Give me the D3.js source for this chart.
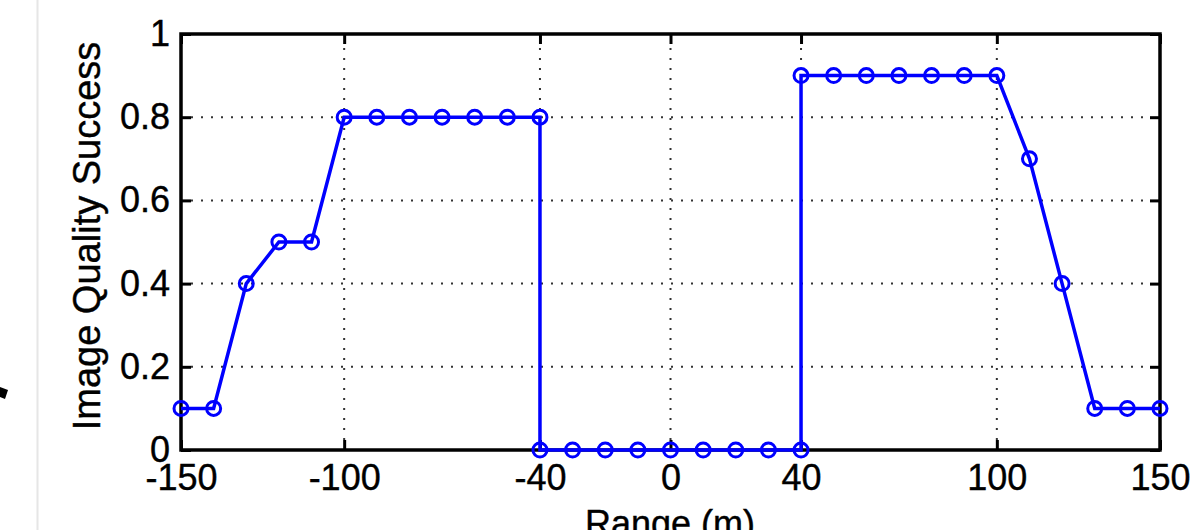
<!DOCTYPE html>
<html>
<head>
<meta charset="utf-8">
<script src="https://cdn.jsdelivr.net/npm/d3@7"></script>
<style>
  body { margin: 0; background: #fff; }
  text { font-family: "Liberation Sans", Arial, sans-serif; fill: #000; }
</style>
</head>
<body>
<script>
// データ
const rangeM = [-150, -140, -130, -120, -110, -100, -90, -80, -70, -60, -50, -40,
  -40, -30, -20, -10, 0, 10, 20, 30, 40,
  40, 50, 60, 70, 80, 90, 100, 110, 120, 130, 140, 150];
const success = [0.1, 0.1, 0.4, 0.5, 0.5, 0.8, 0.8, 0.8, 0.8, 0.8, 0.8, 0.8,
  0, 0, 0, 0, 0, 0, 0, 0, 0,
  0.9, 0.9, 0.9, 0.9, 0.9, 0.9, 0.9, 0.7, 0.4, 0.1, 0.1, 0.1];
const xTicks = [-150, -100, -40, 0, 40, 100, 150];
const yTicks = [0, 0.2, 0.4, 0.6, 0.8, 1];

const points = rangeM.map((r, i) => ({ x: r, y: success[i] }));

// SVGの設定
const width = 1204, height = 530;
const m = { left: 181, right: 1160, top: 34, bottom: 450 };

const svg = d3.select("body").append("svg")
  .attr("width", width).attr("height", height);

// 背景の切り抜き跡
svg.append("line")
  .attr("x1", 37.5).attr("x2", 37.5).attr("y1", 0).attr("y2", height)
  .attr("stroke", "#e6e6e6").attr("stroke-width", 2);
svg.append("path")
  .attr("d", "M0,387 L8,390 L5,399 L0,397 Z")
  .attr("fill", "#000");

const x = d3.scaleLinear().domain([-150, 150]).range([m.left, m.right]);
const y = d3.scaleLinear().domain([0, 1]).range([m.bottom, m.top]);

// グリッド（点線）
const grid = svg.append("g")
  .attr("stroke", "#333").attr("stroke-width", 2).attr("stroke-dasharray", "2 8");
grid.selectAll(".gx").data(xTicks.slice(1, -1)).enter().append("line")
  .attr("x1", d => x(d)).attr("x2", d => x(d))
  .attr("y1", m.bottom - 10).attr("y2", m.top + 10);
grid.selectAll(".gy").data(yTicks.slice(1, -1)).enter().append("line")
  .attr("y1", d => y(d)).attr("y2", d => y(d))
  .attr("x1", m.left + 10).attr("x2", m.right - 10);

// 軸
function styleAxis(g) {
  g.select(".domain").remove();
  g.selectAll(".tick line").attr("stroke", "#000").attr("stroke-width", 3);
  g.selectAll(".tick text").attr("font-size", 36)
    .attr("font-family", "'Liberation Sans', Arial, sans-serif")
    .attr("stroke", "#000").attr("stroke-width", 0.4);
}

svg.append("g").attr("transform", `translate(0,${m.bottom})`)
  .call(d3.axisBottom(x).tickValues(xTicks).tickSize(-10).tickPadding(14).tickFormat(d => d))
  .call(styleAxis);
svg.append("g").attr("transform", `translate(0,${m.top})`)
  .call(d3.axisTop(x).tickValues(xTicks).tickSize(-10).tickFormat(""))
  .call(styleAxis);
svg.append("g").attr("transform", `translate(${m.left},0)`)
  .call(d3.axisLeft(y).tickValues(yTicks).tickSize(-10).tickPadding(11).tickFormat(d => d))
  .call(styleAxis);
svg.append("g").attr("transform", `translate(${m.right},0)`)
  .call(d3.axisRight(y).tickValues(yTicks).tickSize(-10).tickFormat(""))
  .call(styleAxis);

svg.append("rect")
  .attr("x", m.left).attr("y", m.top)
  .attr("width", m.right - m.left).attr("height", m.bottom - m.top)
  .attr("fill", "none").attr("stroke", "#000").attr("stroke-width", 3.5);

// 折れ線
svg.append("path")
  .datum(points)
  .attr("fill", "none").attr("stroke", "#0000ff").attr("stroke-width", 3.5)
  .attr("d", d3.line().x(d => x(d.x)).y(d => y(d.y)));

svg.selectAll("circle.pt").data(points).enter().append("circle")
  .attr("class", "pt")
  .attr("cx", d => x(d.x)).attr("cy", d => y(d.y)).attr("r", 7)
  .attr("fill", "none").attr("stroke", "#0000ff").attr("stroke-width", 3);

// 軸ラベル
svg.append("text")
  .attr("transform", `translate(100,236) rotate(-90)`)
  .attr("text-anchor", "middle").attr("font-size", 38)
  .attr("stroke", "#000").attr("stroke-width", 0.4)
  .text("Image Quality Success");
svg.append("text")
  .attr("x", 670).attr("y", 536)
  .attr("text-anchor", "middle").attr("font-size", 36)
  .attr("stroke", "#000").attr("stroke-width", 0.4)
  .text("Range (m)");
</script>
</body>
</html>
